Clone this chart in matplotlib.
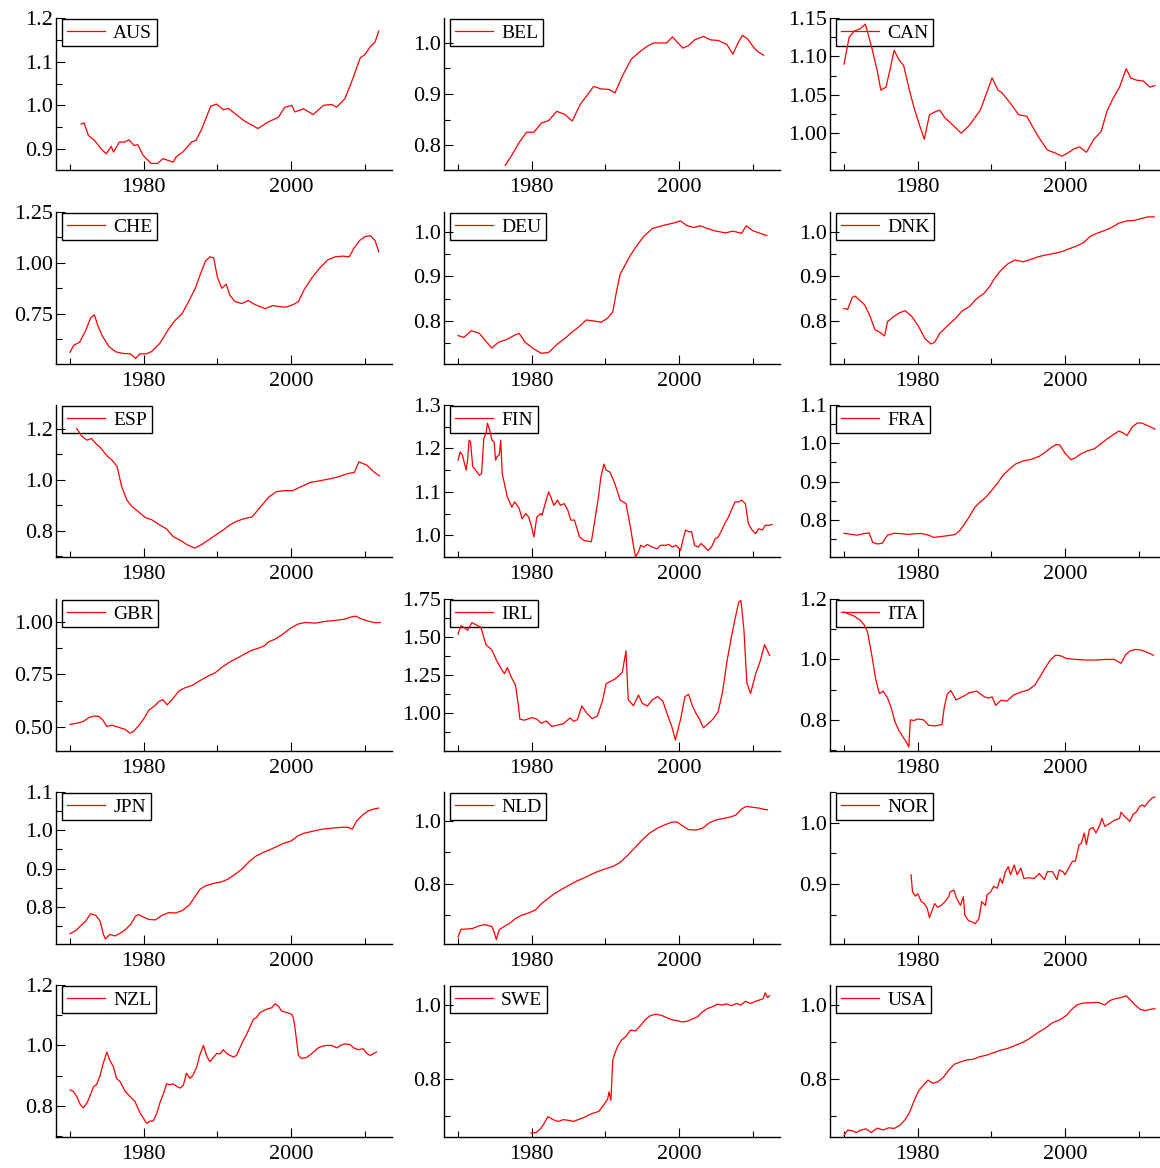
import matplotlib
matplotlib.use("Agg")
import matplotlib.pyplot as plt
from matplotlib.ticker import MultipleLocator, AutoMinorLocator, FormatStrFormatter

plt.rcParams['font.family'] = ['Liberation Serif', 'DejaVu Serif']

# (year, value) readings per country
aus = [(1971.5, 0.957), (1971.9, 0.960), (1972.5, 0.931), (1973.3, 0.920), (1974.2, 0.901),
       (1974.9, 0.889), (1975.6, 0.906), (1975.9, 0.893), (1976.7, 0.916), (1977.4, 0.916),
       (1978.0, 0.921), (1978.7, 0.908), (1979.2, 0.910), (1979.9, 0.886), (1981.0, 0.867),
       (1981.9, 0.867), (1982.6, 0.878), (1984.0, 0.870), (1984.4, 0.882), (1985.3, 0.893),
       (1986.5, 0.916), (1987.1, 0.920), (1987.8, 0.943), (1989.1, 0.998), (1989.9, 1.003),
       (1990.8, 0.990), (1991.5, 0.993), (1992.4, 0.981), (1993.7, 0.964), (1995.5, 0.947),
       (1996.9, 0.962), (1998.3, 0.973), (1999.1, 0.995), (2000.1, 1.000), (2000.5, 0.985),
       (2001.7, 0.992), (2003.0, 0.979), (2004.4, 1.000), (2005.5, 1.002), (2006.2, 0.996),
       (2007.3, 1.015), (2008.2, 1.053), (2009.4, 1.109), (2010.0, 1.116), (2010.7, 1.133),
       (2011.4, 1.145), (2011.9, 1.170)]

bel = [(1976.4, 0.760), (1977.3, 0.780), (1978.3, 0.805), (1979.3, 0.825), (1980.3, 0.825),
       (1981.3, 0.843), (1982.3, 0.848), (1983.4, 0.866), (1984.5, 0.860), (1985.5, 0.847),
       (1986.6, 0.880), (1987.5, 0.897), (1988.4, 0.915), (1989.4, 0.910), (1990.5, 0.909),
       (1991.3, 0.902), (1992.3, 0.935), (1993.5, 0.968), (1994.6, 0.982), (1995.5, 0.992),
       (1996.5, 1.000), (1997.5, 1.000), (1998.3, 1.000), (1999.1, 1.012), (2000.5, 0.990),
       (2001.3, 0.995), (2002.1, 1.006), (2003.3, 1.013), (2004.3, 1.006), (2005.3, 1.005),
       (2006.5, 0.997), (2007.3, 0.978), (2008.0, 1.000), (2008.6, 1.015), (2009.3, 1.008),
       (2010.2, 0.990), (2010.8, 0.982), (2011.5, 0.976)]

can = [(1970.0, 1.090), (1970.7, 1.125), (1971.4, 1.133), (1972.2, 1.136), (1972.9, 1.142),
       (1973.7, 1.114), (1974.5, 1.082), (1975.0, 1.056), (1975.7, 1.060), (1976.3, 1.085),
       (1976.8, 1.108), (1977.5, 1.095), (1978.1, 1.088), (1978.9, 1.055), (1979.6, 1.030),
       (1980.3, 1.009), (1980.9, 0.992), (1981.6, 1.024), (1982.4, 1.028), (1983.0, 1.030),
       (1983.7, 1.020), (1984.5, 1.013), (1985.9, 1.000), (1987.0, 1.010), (1988.5, 1.030),
       (1990.1, 1.072), (1990.9, 1.056), (1991.4, 1.053), (1992.5, 1.040), (1993.7, 1.024),
       (1994.8, 1.022), (1995.5, 1.010), (1996.4, 0.995), (1997.6, 0.978), (1998.7, 0.974),
       (1999.6, 0.970), (2000.5, 0.975), (2001.3, 0.980), (2002.0, 0.982), (2002.9, 0.975),
       (2003.9, 0.992), (2004.9, 1.002), (2005.7, 1.029), (2006.5, 1.045), (2007.4, 1.060),
       (2008.3, 1.084), (2008.9, 1.072), (2009.7, 1.069), (2010.6, 1.068), (2011.5, 1.060),
       (2012.2, 1.062)]

che = [(1970.0, 0.560), (1970.5, 0.595), (1971.3, 0.610), (1972.1, 0.665), (1972.8, 0.730),
       (1973.3, 0.745), (1973.8, 0.690), (1974.4, 0.640), (1975.3, 0.588), (1976.2, 0.563),
       (1977.2, 0.555), (1978.2, 0.553), (1978.9, 0.530), (1979.5, 0.553), (1980.4, 0.553),
       (1981.1, 0.565), (1982.2, 0.605), (1983.3, 0.670), (1984.2, 0.715), (1985.2, 0.750),
       (1986.1, 0.810), (1987.0, 0.875), (1987.7, 0.945), (1988.4, 1.010), (1989.0, 1.030),
       (1989.5, 1.025), (1990.0, 0.930), (1990.6, 0.875), (1991.2, 0.895), (1991.7, 0.840),
       (1992.4, 0.810), (1993.3, 0.800), (1994.2, 0.815), (1995.1, 0.795), (1996.5, 0.775),
       (1997.5, 0.790), (1998.5, 0.785), (1999.3, 0.782), (2000.3, 0.795), (2001.0, 0.810),
       (2001.8, 0.870), (2002.8, 0.925), (2003.9, 0.975), (2005.0, 1.015), (2006.0, 1.030),
       (2007.0, 1.033), (2007.9, 1.030), (2008.5, 1.070), (2009.3, 1.110), (2010.1, 1.130),
       (2010.8, 1.133), (2011.4, 1.110), (2011.9, 1.055)]

deu = [(1970.0, 0.767), (1970.8, 0.763), (1971.8, 0.778), (1972.9, 0.772), (1973.9, 0.752),
       (1974.6, 0.739), (1975.5, 0.752), (1976.6, 0.758), (1977.7, 0.768), (1978.3, 0.772),
       (1979.1, 0.752), (1980.2, 0.738), (1981.3, 0.727), (1982.3, 0.729), (1983.5, 0.748),
       (1984.6, 0.762), (1985.5, 0.775), (1986.5, 0.788), (1987.4, 0.802), (1988.4, 0.800),
       (1989.4, 0.797), (1990.3, 0.806), (1991.0, 0.820), (1991.5, 0.865), (1992.0, 0.905),
       (1992.5, 0.920), (1993.3, 0.945), (1994.2, 0.968), (1995.2, 0.990), (1996.4, 1.008),
       (1997.9, 1.015), (1999.2, 1.020), (2000.2, 1.025), (2001.0, 1.015), (2002.0, 1.010),
       (2002.9, 1.014), (2003.8, 1.008), (2005.0, 1.002), (2006.3, 0.998), (2007.3, 1.002),
       (2008.5, 0.997), (2009.1, 1.014), (2010.0, 1.003), (2011.0, 0.997), (2011.9, 0.992)]

dnk = [(1970.0, 0.828), (1970.5, 0.826), (1971.1, 0.852), (1971.5, 0.856), (1972.1, 0.847),
       (1972.8, 0.836), (1973.5, 0.812), (1974.2, 0.780), (1974.9, 0.774), (1975.5, 0.766),
       (1975.9, 0.798), (1976.6, 0.808), (1977.5, 0.818), (1978.3, 0.823), (1979.2, 0.810),
       (1980.1, 0.788), (1981.0, 0.760), (1981.8, 0.748), (1982.3, 0.752), (1983.0, 0.772),
       (1984.1, 0.790), (1985.1, 0.805), (1986.0, 0.822), (1987.0, 0.832), (1988.0, 0.850),
       (1989.0, 0.862), (1989.8, 0.878), (1990.4, 0.895), (1991.2, 0.912), (1992.2, 0.928),
       (1993.2, 0.937), (1994.3, 0.933), (1995.3, 0.938), (1996.3, 0.944), (1997.3, 0.948),
       (1998.6, 0.952), (1999.6, 0.956), (2000.5, 0.962), (2001.5, 0.968), (2002.5, 0.976),
       (2003.4, 0.990), (2004.3, 0.997), (2005.3, 1.003), (2006.3, 1.010), (2007.3, 1.020),
       (2008.4, 1.025), (2009.4, 1.026), (2010.3, 1.030), (2011.2, 1.034), (2012.1, 1.034)]

esp = [(1970.9, 1.202), (1971.6, 1.172), (1972.3, 1.156), (1972.9, 1.163), (1973.6, 1.140),
       (1974.1, 1.128), (1975.0, 1.095), (1975.7, 1.078), (1976.4, 1.052), (1977.0, 0.975),
       (1977.7, 0.922), (1978.4, 0.896), (1979.4, 0.873), (1980.2, 0.853), (1981.1, 0.844),
       (1982.1, 0.825), (1983.1, 0.808), (1984.0, 0.778), (1985.0, 0.763), (1985.9, 0.746),
       (1986.9, 0.733), (1987.7, 0.744), (1988.7, 0.763), (1989.7, 0.783), (1990.7, 0.802),
       (1991.7, 0.824), (1992.6, 0.838), (1993.6, 0.848), (1994.7, 0.855), (1995.9, 0.896),
       (1997.0, 0.934), (1998.0, 0.954), (1999.0, 0.958), (2000.2, 0.958), (2001.3, 0.973),
       (2002.6, 0.990), (2003.9, 0.997), (2005.2, 1.004), (2006.5, 1.013), (2007.7, 1.025),
       (2008.6, 1.030), (2009.2, 1.071), (2010.3, 1.058), (2011.3, 1.030), (2012.0, 1.016)]

fin = [(1970.0, 1.173), (1970.3, 1.192), (1970.6, 1.185), (1971.1, 1.150), (1971.3, 1.173),
       (1971.5, 1.219), (1971.7, 1.215), (1972.0, 1.158), (1972.4, 1.150), (1972.9, 1.138),
       (1973.2, 1.142), (1973.5, 1.223), (1973.8, 1.235), (1974.0, 1.258), (1974.3, 1.242),
       (1974.6, 1.219), (1974.9, 1.215), (1975.1, 1.173), (1975.3, 1.181), (1975.6, 1.185),
       (1975.8, 1.219), (1976.0, 1.142), (1976.3, 1.119), (1976.7, 1.088), (1977.3, 1.065),
       (1977.7, 1.077), (1978.3, 1.062), (1978.7, 1.038), (1979.2, 1.050), (1979.6, 1.042),
       (1980.0, 1.019), (1980.3, 0.996), (1980.7, 1.042), (1981.2, 1.050), (1981.4, 1.046),
       (1981.9, 1.077), (1982.3, 1.100), (1982.6, 1.088), (1983.0, 1.069), (1983.5, 1.081),
       (1983.9, 1.069), (1984.4, 1.073), (1984.9, 1.058), (1985.3, 1.035), (1985.8, 1.035),
       (1986.5, 0.996), (1987.1, 0.988), (1988.1, 0.985), (1988.5, 1.027), (1989.0, 1.081),
       (1989.4, 1.135), (1989.8, 1.164), (1990.1, 1.150), (1990.6, 1.146), (1991.1, 1.127),
       (1991.5, 1.108), (1992.0, 1.081), (1992.4, 1.077), (1992.8, 1.073), (1993.4, 1.019),
       (1993.8, 0.977), (1994.1, 0.950), (1994.5, 0.962), (1994.8, 0.977), (1995.2, 0.973),
       (1995.7, 0.979), (1996.3, 0.973), (1997.0, 0.969), (1997.5, 0.977), (1998.2, 0.977),
       (1998.6, 0.979), (1999.1, 0.973), (1999.6, 0.977), (2000.2, 0.965), (2000.5, 0.988),
       (2000.9, 1.012), (2001.4, 1.008), (2001.7, 1.008), (2002.1, 0.977), (2002.6, 0.973),
       (2003.0, 0.981), (2003.5, 0.973), (2003.9, 0.965), (2004.4, 0.973), (2004.9, 0.992),
       (2005.3, 0.996), (2005.8, 1.012), (2006.2, 1.027), (2006.7, 1.042), (2007.1, 1.058),
       (2007.6, 1.077), (2008.1, 1.077), (2008.5, 1.081), (2009.0, 1.073), (2009.4, 1.027),
       (2009.9, 1.012), (2010.4, 1.004), (2010.8, 1.015), (2011.3, 1.012), (2011.7, 1.023),
       (2012.2, 1.023), (2012.6, 1.025)]

fra = [(1970.0, 0.765), (1971.0, 0.762), (1971.8, 0.760), (1972.7, 0.764), (1973.4, 0.766),
       (1973.9, 0.741), (1974.6, 0.737), (1975.2, 0.739), (1975.9, 0.760), (1976.8, 0.765),
       (1977.7, 0.764), (1978.8, 0.762), (1979.8, 0.764), (1980.6, 0.764), (1981.5, 0.760),
       (1982.2, 0.754), (1983.0, 0.756), (1984.2, 0.759), (1985.1, 0.762), (1985.7, 0.772),
       (1986.3, 0.788), (1987.0, 0.808), (1987.8, 0.834), (1988.5, 0.847), (1989.2, 0.858),
       (1990.0, 0.876), (1990.8, 0.895), (1991.6, 0.917), (1992.4, 0.932), (1993.3, 0.946),
       (1994.3, 0.954), (1995.4, 0.958), (1996.5, 0.966), (1997.4, 0.978), (1998.2, 0.990),
       (1998.8, 0.997), (1999.3, 0.995), (2000.0, 0.974), (2000.8, 0.957), (2001.4, 0.962),
       (2002.1, 0.972), (2003.0, 0.980), (2004.0, 0.986), (2004.8, 0.998), (2005.6, 1.010),
       (2006.5, 1.022), (2007.3, 1.032), (2007.9, 1.027), (2008.4, 1.020), (2009.1, 1.042),
       (2009.8, 1.053), (2010.4, 1.053), (2011.1, 1.047), (2011.8, 1.041), (2012.2, 1.037)]

gbr = [(1970.0, 0.512), (1971.0, 0.518), (1971.8, 0.526), (1972.6, 0.545), (1973.3, 0.552),
       (1973.9, 0.550), (1974.4, 0.535), (1975.0, 0.502), (1975.7, 0.508), (1976.6, 0.498),
       (1977.5, 0.488), (1978.1, 0.470), (1978.6, 0.478), (1979.3, 0.505), (1980.0, 0.538),
       (1980.7, 0.580), (1981.4, 0.598), (1982.1, 0.622), (1982.6, 0.630), (1983.2, 0.605),
       (1984.0, 0.636), (1984.8, 0.672), (1985.7, 0.688), (1986.6, 0.698), (1987.6, 0.720),
       (1988.7, 0.742), (1989.7, 0.758), (1990.6, 0.784), (1991.7, 0.810), (1992.8, 0.830),
       (1993.7, 0.848), (1994.7, 0.866), (1995.7, 0.877), (1996.4, 0.887), (1996.9, 0.905),
       (1997.8, 0.918), (1998.8, 0.940), (1999.9, 0.970), (2000.9, 0.990), (2001.9, 0.998),
       (2003.3, 0.995), (2004.6, 1.003), (2006.0, 1.008), (2007.3, 1.014), (2008.1, 1.024),
       (2008.8, 1.028), (2009.5, 1.016), (2010.4, 1.005), (2011.4, 0.997), (2012.1, 0.998)]

irl = [(1970.0, 1.520), (1970.4, 1.575), (1970.9, 1.560), (1971.3, 1.545), (1971.9, 1.595),
       (1972.5, 1.580), (1973.1, 1.565), (1973.8, 1.450), (1974.6, 1.415), (1975.3, 1.340),
       (1975.9, 1.290), (1976.3, 1.260), (1976.7, 1.300), (1977.2, 1.240), (1977.8, 1.185),
       (1978.2, 1.050), (1978.4, 0.962), (1979.0, 0.955), (1980.0, 0.972), (1980.7, 0.962),
       (1981.3, 0.935), (1982.0, 0.950), (1982.7, 0.915), (1983.3, 0.920), (1984.3, 0.932),
       (1985.2, 0.970), (1985.7, 0.948), (1986.2, 0.958), (1986.8, 1.048), (1987.5, 1.000),
       (1988.2, 0.965), (1988.9, 0.982), (1989.6, 1.080), (1990.1, 1.195), (1990.7, 1.210),
       (1991.3, 1.225), (1991.9, 1.250), (1992.3, 1.270), (1992.8, 1.410), (1993.1, 1.090),
       (1993.8, 1.050), (1994.5, 1.120), (1995.0, 1.066), (1995.7, 1.048), (1996.4, 1.090),
       (1997.1, 1.110), (1997.8, 1.080), (1998.5, 0.980), (1999.0, 0.915), (1999.5, 0.825),
       (2000.2, 0.960), (2000.8, 1.110), (2001.3, 1.125), (2001.8, 1.050), (2002.3, 1.000),
       (2002.8, 0.960), (2003.3, 0.905), (2003.9, 0.930), (2004.6, 0.962), (2005.3, 1.010),
       (2005.9, 1.140), (2006.5, 1.340), (2007.1, 1.500), (2007.6, 1.620), (2008.1, 1.730),
       (2008.4, 1.740), (2008.8, 1.550), (2009.2, 1.200), (2009.7, 1.130), (2010.4, 1.260),
       (2011.0, 1.340), (2011.6, 1.450), (2012.0, 1.410), (2012.3, 1.380)]

ita = [(1970.0, 1.157), (1970.7, 1.150), (1971.4, 1.143), (1972.2, 1.130), (1972.8, 1.112),
       (1973.2, 1.090), (1973.8, 1.010), (1974.3, 0.935), (1974.8, 0.887), (1975.3, 0.895),
       (1975.9, 0.873), (1976.4, 0.840), (1976.9, 0.795), (1977.5, 0.762), (1978.1, 0.740),
       (1978.5, 0.725), (1978.8, 0.710), (1979.0, 0.800), (1979.5, 0.798), (1980.0, 0.803),
       (1980.8, 0.800), (1981.5, 0.782), (1982.4, 0.780), (1983.3, 0.785), (1983.6, 0.840),
       (1984.0, 0.885), (1984.5, 0.897), (1985.2, 0.866), (1986.2, 0.878), (1987.0, 0.890),
       (1988.0, 0.895), (1989.0, 0.877), (1989.6, 0.872), (1990.1, 0.876), (1990.6, 0.848),
       (1991.3, 0.865), (1992.1, 0.862), (1993.0, 0.882), (1994.0, 0.892), (1995.0, 0.899),
       (1995.9, 0.915), (1996.6, 0.943), (1997.3, 0.972), (1998.0, 0.998), (1998.7, 1.014),
       (1999.4, 1.012), (2000.2, 1.003), (2001.5, 1.000), (2002.8, 0.998), (2004.2, 0.998),
       (2005.5, 1.000), (2006.7, 1.000), (2007.6, 0.987), (2008.2, 1.015), (2008.8, 1.028),
       (2009.5, 1.033), (2010.3, 1.031), (2011.1, 1.024), (2012.0, 1.014)]

jpn = [(1970.0, 0.730), (1970.8, 0.738), (1971.5, 0.752), (1972.1, 0.762), (1972.8, 0.782),
       (1973.5, 0.778), (1974.1, 0.762), (1974.5, 0.730), (1974.8, 0.716), (1975.4, 0.728),
       (1976.1, 0.724), (1976.9, 0.732), (1977.6, 0.742), (1978.3, 0.756), (1978.9, 0.776),
       (1979.3, 0.780), (1979.9, 0.774), (1980.7, 0.767), (1981.6, 0.766), (1982.5, 0.778),
       (1983.4, 0.785), (1984.3, 0.784), (1985.2, 0.790), (1986.2, 0.805), (1986.9, 0.825),
       (1987.6, 0.845), (1988.4, 0.855), (1989.4, 0.861), (1990.5, 0.865), (1991.4, 0.872),
       (1992.4, 0.885), (1993.4, 0.900), (1994.3, 0.918), (1995.2, 0.932), (1996.2, 0.942),
       (1997.2, 0.950), (1998.1, 0.958), (1999.0, 0.966), (2000.0, 0.972), (2000.9, 0.985),
       (2001.7, 0.992), (2002.6, 0.996), (2003.5, 1.000), (2004.6, 1.004), (2005.8, 1.006),
       (2007.0, 1.008), (2007.7, 1.008), (2008.3, 1.003), (2008.9, 1.024), (2009.6, 1.038),
       (2010.4, 1.050), (2011.3, 1.056), (2011.9, 1.058)]

nld = [(1970.0, 0.628), (1970.4, 0.653), (1971.2, 0.654), (1972.0, 0.656), (1972.8, 0.664),
       (1973.7, 0.668), (1974.6, 0.662), (1974.9, 0.645), (1975.2, 0.620), (1975.6, 0.652),
       (1976.3, 0.663), (1977.0, 0.672), (1977.8, 0.688), (1978.6, 0.698), (1979.5, 0.705),
       (1980.5, 0.715), (1981.3, 0.735), (1982.2, 0.752), (1983.1, 0.768), (1984.1, 0.782),
       (1985.1, 0.795), (1986.1, 0.808), (1987.1, 0.818), (1988.1, 0.830), (1989.1, 0.840),
       (1990.1, 0.848), (1991.1, 0.856), (1992.0, 0.868), (1993.0, 0.890), (1994.0, 0.915),
       (1995.0, 0.940), (1996.0, 0.962), (1997.0, 0.977), (1998.0, 0.988), (1999.0, 0.997),
       (1999.7, 0.998), (2000.5, 0.985), (2001.3, 0.973), (2002.3, 0.972), (2003.2, 0.978),
       (2004.1, 0.995), (2005.0, 1.004), (2006.0, 1.009), (2007.0, 1.014), (2007.7, 1.020),
       (2008.5, 1.040), (2009.2, 1.048), (2010.0, 1.045), (2010.9, 1.042), (2011.6, 1.038),
       (2012.0, 1.037)]

nor = [(1979.1, 0.915), (1979.3, 0.887), (1979.7, 0.880), (1980.0, 0.884), (1980.5, 0.871),
       (1980.9, 0.868), (1981.3, 0.860), (1981.6, 0.845), (1981.9, 0.855), (1982.3, 0.868),
       (1982.7, 0.862), (1983.2, 0.865), (1983.7, 0.871), (1984.2, 0.879), (1984.4, 0.887),
       (1984.9, 0.890), (1985.3, 0.876), (1985.8, 0.865), (1986.2, 0.879), (1986.4, 0.849),
       (1986.9, 0.840), (1987.4, 0.838), (1987.8, 0.835), (1988.3, 0.843), (1988.7, 0.871),
       (1989.2, 0.865), (1989.4, 0.882), (1989.9, 0.887), (1990.3, 0.896), (1990.8, 0.893),
       (1991.2, 0.909), (1991.5, 0.901), (1991.9, 0.920), (1992.3, 0.928), (1992.6, 0.915),
       (1993.1, 0.931), (1993.5, 0.915), (1994.0, 0.926), (1994.4, 0.909), (1995.1, 0.910),
       (1995.8, 0.909), (1996.5, 0.917), (1997.2, 0.907), (1997.6, 0.920), (1998.3, 0.920),
       (1998.9, 0.907), (1999.2, 0.923), (1999.7, 0.920), (2000.0, 0.915), (2000.5, 0.926),
       (2001.0, 0.937), (2001.4, 0.937), (2001.9, 0.964), (2002.2, 0.966), (2002.6, 0.983),
       (2002.9, 0.964), (2003.3, 0.989), (2003.8, 0.992), (2004.2, 0.983), (2004.7, 0.996),
       (2005.0, 1.007), (2005.4, 0.994), (2006.1, 0.999), (2006.7, 1.004), (2007.4, 1.007),
       (2007.6, 1.017), (2008.1, 1.010), (2008.8, 1.002), (2009.2, 1.013), (2009.7, 1.018),
       (2010.1, 1.026), (2010.5, 1.029), (2010.8, 1.026), (2011.3, 1.034), (2011.8, 1.040),
       (2012.2, 1.042)]

nzl = [(1970.0, 0.853), (1970.45, 0.848), (1970.9, 0.832), (1971.4, 0.804), (1971.8, 0.793),
       (1972.3, 0.810), (1972.7, 0.832), (1973.2, 0.864), (1973.6, 0.870), (1974.1, 0.902),
       (1974.5, 0.940), (1975.0, 0.978), (1975.4, 0.951), (1975.9, 0.929), (1976.3, 0.891),
       (1976.8, 0.880), (1977.5, 0.848), (1978.1, 0.832), (1978.8, 0.815), (1979.5, 0.777),
       (1980.0, 0.758), (1980.4, 0.742), (1980.9, 0.750), (1981.3, 0.750), (1981.8, 0.777),
       (1982.2, 0.810), (1982.7, 0.842), (1983.1, 0.873), (1983.6, 0.870), (1984.0, 0.873),
       (1984.5, 0.864), (1985.0, 0.859), (1985.4, 0.870), (1985.8, 0.908), (1986.3, 0.891),
       (1986.7, 0.902), (1987.2, 0.929), (1987.6, 0.967), (1988.1, 1.000), (1988.6, 0.962),
       (1989.0, 0.946), (1989.5, 0.962), (1989.9, 0.973), (1990.4, 0.973), (1990.8, 0.986),
       (1991.3, 0.973), (1991.7, 0.967), (1992.2, 0.962), (1992.6, 0.967), (1993.0, 0.989),
       (1993.5, 1.016), (1993.9, 1.033), (1994.4, 1.060), (1994.9, 1.087), (1995.3, 1.092),
       (1995.8, 1.109), (1996.2, 1.114), (1996.7, 1.120), (1997.4, 1.125), (1997.8, 1.138),
       (1998.3, 1.130), (1998.7, 1.114), (1999.4, 1.109), (2000.1, 1.103), (2000.3, 1.092),
       (2000.5, 1.065), (2000.8, 1.005), (2001.0, 0.967), (2001.4, 0.957), (2002.1, 0.960),
       (2002.8, 0.973), (2003.3, 0.984), (2003.7, 0.992), (2004.2, 0.997), (2004.8, 1.000),
       (2005.5, 1.000), (2006.2, 0.992), (2006.7, 1.000), (2007.3, 1.005), (2008.0, 1.003),
       (2008.5, 0.992), (2009.1, 0.986), (2009.8, 0.989), (2010.3, 0.973), (2010.7, 0.967),
       (2011.2, 0.973), (2011.6, 0.978)]

swe = [(1979.9, 0.654), (1980.6, 0.655), (1981.2, 0.665), (1981.7, 0.680), (1982.2, 0.698),
       (1982.9, 0.690), (1983.6, 0.685), (1984.3, 0.690), (1985.0, 0.688), (1985.7, 0.685),
       (1986.3, 0.690), (1987.0, 0.695), (1987.7, 0.702), (1988.4, 0.708), (1989.1, 0.712),
       (1989.7, 0.728), (1990.3, 0.745), (1990.5, 0.765), (1990.75, 0.742), (1991.0, 0.850),
       (1991.3, 0.870), (1991.7, 0.890), (1992.2, 0.905), (1992.8, 0.915), (1993.4, 0.932),
       (1994.1, 0.930), (1994.8, 0.945), (1995.5, 0.962), (1996.2, 0.972), (1996.9, 0.975),
       (1997.6, 0.972), (1998.3, 0.966), (1999.0, 0.960), (1999.7, 0.958), (2000.4, 0.954),
       (2001.1, 0.956), (2001.8, 0.962), (2002.5, 0.968), (2003.1, 0.980), (2003.8, 0.990),
       (2004.5, 0.995), (2005.2, 1.002), (2005.9, 1.000), (2006.5, 1.003), (2007.1, 0.998),
       (2007.8, 1.004), (2008.4, 1.000), (2009.0, 1.010), (2009.7, 1.004), (2010.4, 1.010),
       (2011.0, 1.014), (2011.4, 1.017), (2011.7, 1.033), (2012.0, 1.020), (2012.3, 1.025)]

usa = [(1970.0, 0.648), (1970.5, 0.662), (1971.1, 0.660), (1971.7, 0.655), (1972.3, 0.662),
       (1973.0, 0.665), (1973.7, 0.655), (1974.5, 0.667), (1975.3, 0.662), (1976.1, 0.668),
       (1976.8, 0.666), (1977.6, 0.675), (1978.3, 0.690), (1978.9, 0.710), (1979.6, 0.745),
       (1980.1, 0.767), (1980.7, 0.782), (1981.4, 0.797), (1982.1, 0.788), (1982.8, 0.793),
       (1983.5, 0.805), (1984.3, 0.826), (1985.0, 0.840), (1985.8, 0.846), (1986.6, 0.851),
       (1987.5, 0.853), (1988.4, 0.860), (1989.3, 0.864), (1990.3, 0.871), (1991.3, 0.878),
       (1992.3, 0.883), (1993.4, 0.892), (1994.4, 0.900), (1995.3, 0.911), (1996.3, 0.925),
       (1997.3, 0.937), (1998.3, 0.952), (1999.3, 0.960), (2000.2, 0.972), (2000.9, 0.988),
       (2001.6, 1.000), (2002.4, 1.005), (2003.4, 1.006), (2004.5, 1.007), (2005.4, 1.000),
       (2006.1, 1.012), (2006.8, 1.017), (2007.6, 1.020), (2008.3, 1.025), (2008.8, 1.015),
       (2009.5, 1.000), (2010.2, 0.988), (2010.9, 0.985), (2011.5, 0.988), (2012.2, 0.990)]

countries = ['AUS', 'BEL', 'CAN', 'CHE', 'DEU', 'DNK', 'ESP', 'FIN', 'FRA',
             'GBR', 'IRL', 'ITA', 'JPN', 'NLD', 'NOR', 'NZL', 'SWE', 'USA']
series = [aus, bel, can, che, deu, dnk, esp, fin, fra,
          gbr, irl, ita, jpn, nld, nor, nzl, swe, usa]

# y limits, major tick step and label format for each panel
ylims = [(0.852, 1.2), (0.751, 1.049), (0.952, 1.15), (0.503, 1.25), (0.703, 1.045), (0.703, 1.045),
         (0.698, 1.294), (0.95, 1.3), (0.703, 1.10), (0.385, 1.11), (0.753, 1.75), (0.697, 1.2),
         (0.703, 1.10), (0.606, 1.094), (0.802, 1.05), (0.697, 1.2), (0.643, 1.054), (0.643, 1.054)]
ysteps = [0.1, 0.1, 0.05, 0.25, 0.1, 0.1, 0.2, 0.1, 0.1,
          0.25, 0.25, 0.2, 0.1, 0.2, 0.1, 0.2, 0.2, 0.2]
yfmts = ['%.1f', '%.1f', '%.2f', '%.2f', '%.1f', '%.1f', '%.1f', '%.1f', '%.1f',
         '%.2f', '%.2f', '%.1f', '%.1f', '%.1f', '%.1f', '%.1f', '%.1f', '%.1f']

W, H = 1160, 1168
fig = plt.figure(figsize=(W / 100, H / 100), dpi=100)

col_left = [56, 444, 830]
row_top = [18, 212, 405, 599, 792, 985]
aw, ah = 336, 152

for i, name in enumerate(countries):
    r, c = divmod(i, 3)
    ax = fig.add_axes([col_left[c] / W, 1 - (row_top[r] + ah) / H, aw / W, ah / H])
    xs = [p[0] for p in series[i]]
    ys = [p[1] for p in series[i]]
    ax.plot(xs, ys, color='red', lw=0.9, label=name, zorder=3)

    ax.set_xlim(1968.1, 2013.7)
    ax.set_ylim(*ylims[i])
    ax.xaxis.set_major_locator(MultipleLocator(20))
    ax.xaxis.set_minor_locator(MultipleLocator(10))
    ax.yaxis.set_major_locator(MultipleLocator(ysteps[i]))
    ax.yaxis.set_minor_locator(AutoMinorLocator(2))
    ax.yaxis.set_major_formatter(FormatStrFormatter(yfmts[i]))

    for s in ['top', 'right']:
        ax.spines[s].set_visible(False)
    for s in ['left', 'bottom']:
        ax.spines[s].set_linewidth(1.0)
    ax.tick_params(which='both', direction='in', labelsize=16, width=0.8)
    ax.tick_params(which='major', length=6.5)
    ax.tick_params(which='minor', length=4.5)
    ax.tick_params(axis='x', pad=6)
    ax.tick_params(axis='y', pad=2)

    leg = ax.legend(loc='upper left', bbox_to_anchor=(0.017, 0.993), borderaxespad=0,
                    fontsize=14, fancybox=False, framealpha=1, facecolor='none',
                    edgecolor='black', borderpad=0.25, handletextpad=0.4)
    leg.get_frame().set_linewidth(1.0)
    leg.set_zorder(2)

fig.savefig('out.png', dpi=100)
